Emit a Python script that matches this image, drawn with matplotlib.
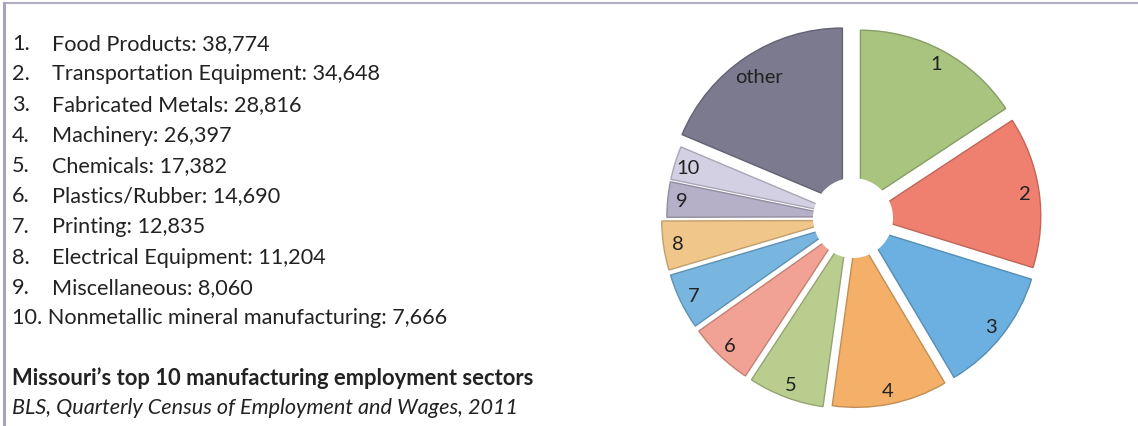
import matplotlib
matplotlib.use("Agg")
import matplotlib.pyplot as plt
from matplotlib.patches import Circle
from matplotlib.lines import Line2D
import matplotlib.colors as mcolors

# ---- data ----
sectors = ["Food Products", "Transportation Equipment", "Fabricated Metals",
           "Machinery", "Chemicals", "Plastics/Rubber", "Printing",
           "Electrical Equipment", "Miscellaneous",
           "Nonmetallic mineral manufacturing"]
employment = [38774, 34648, 28816, 26397, 17382, 14690, 12835, 11204, 8060, 7666]
other_value = 46000
pie_labels = ["1", "2", "3", "4", "5", "6", "7", "8", "9", "10", "other"]
colors = ["#a9c47f", "#ef7f6e", "#6bb0e0", "#f4b068", "#b9cd8f", "#f1a294",
          "#78b5df", "#f1c68a", "#b5afc7", "#d3d0e3", "#7b7a8e"]
title = "Missouri\u2019s top 10 manufacturing employment sectors"
source = "BLS, Quarterly Census of Employment and Wages, 2011"

W, H = 1138, 427
fig = plt.figure(figsize=(W / 100, H / 100), dpi=100)
fig.patch.set_facecolor("white")

FONT = "Lato"
TXT = "#222222"
FS = 15.6

# ---- left list ----
y0, dy = 44, 30.5
for i, (name, val) in enumerate(zip(sectors, employment)):
    y = 1 - (y0 + i * dy) / H
    if i == 9:
        fig.text(12 / W, y, f"{i + 1}. {name}: {val:,}", fontsize=FS, family=FONT,
                 color=TXT, va="center")
    else:
        fig.text(12 / W, y, f"{i + 1}.", fontsize=FS, family=FONT, color=TXT, va="center")
        fig.text(52 / W, y, f"{name}: {val:,}", fontsize=FS, family=FONT,
                 color=TXT, va="center")

fig.text(12 / W, 1 - 378 / H, title, fontsize=15.8, family=FONT, weight="bold",
         color=TXT, va="center")
fig.text(12 / W, 1 - 408 / H, source, fontsize=15.6, family=FONT, style="italic",
         color=TXT, va="center")

# ---- frame lines ----
fig.add_artist(Line2D([4 / W, 1], [1 - 4 / H, 1 - 4 / H], transform=fig.transFigure,
                      color="#b3aec4", lw=1.5))
fig.add_artist(Line2D([4 / W, 4 / W], [0, 1 - 4 / H], transform=fig.transFigure,
                      color="#aaa2bf", lw=2.2))

# ---- pie ----
cx, cy, R = 853, 219, 174
half = 1.3
ax = fig.add_axes([(cx - half * R) / W, 1 - (cy + half * R) / H, 2 * half * R / W, 2 * half * R / H])
values = employment + [other_value]
explode = [0.09, 0.08, 0.09, 0.09, 0.1, 0.1, 0.1, 0.1, 0.07, 0.07, 0.11]
edge = [tuple(c * 0.8 for c in mcolors.to_rgb(col)) for col in colors]
wedges, texts = ax.pie(values, labels=pie_labels, colors=colors, explode=explode,
                       startangle=90, counterclock=False, labeldistance=0.92,
                       wedgeprops=dict(linewidth=1.0))
for w, ec in zip(wedges, edge):
    w.set_edgecolor(ec)
for t in texts:
    t.set_ha("center")
    t.set_va("center")
    t.set_fontsize(14.5)
    t.set_family(FONT)
    t.set_color(TXT)
px, py = texts[-1].get_position()
texts[-1].set_position((px * 0.95, py * 0.95))
ax.add_patch(Circle((0, 0), 40 / R, facecolor="white", edgecolor="none", zorder=5))
ax.set_xlim(-half, half)
ax.set_ylim(-half, half)
ax.set_aspect("equal")
ax.axis("off")

fig.savefig("out.png", dpi=100, facecolor="white")
